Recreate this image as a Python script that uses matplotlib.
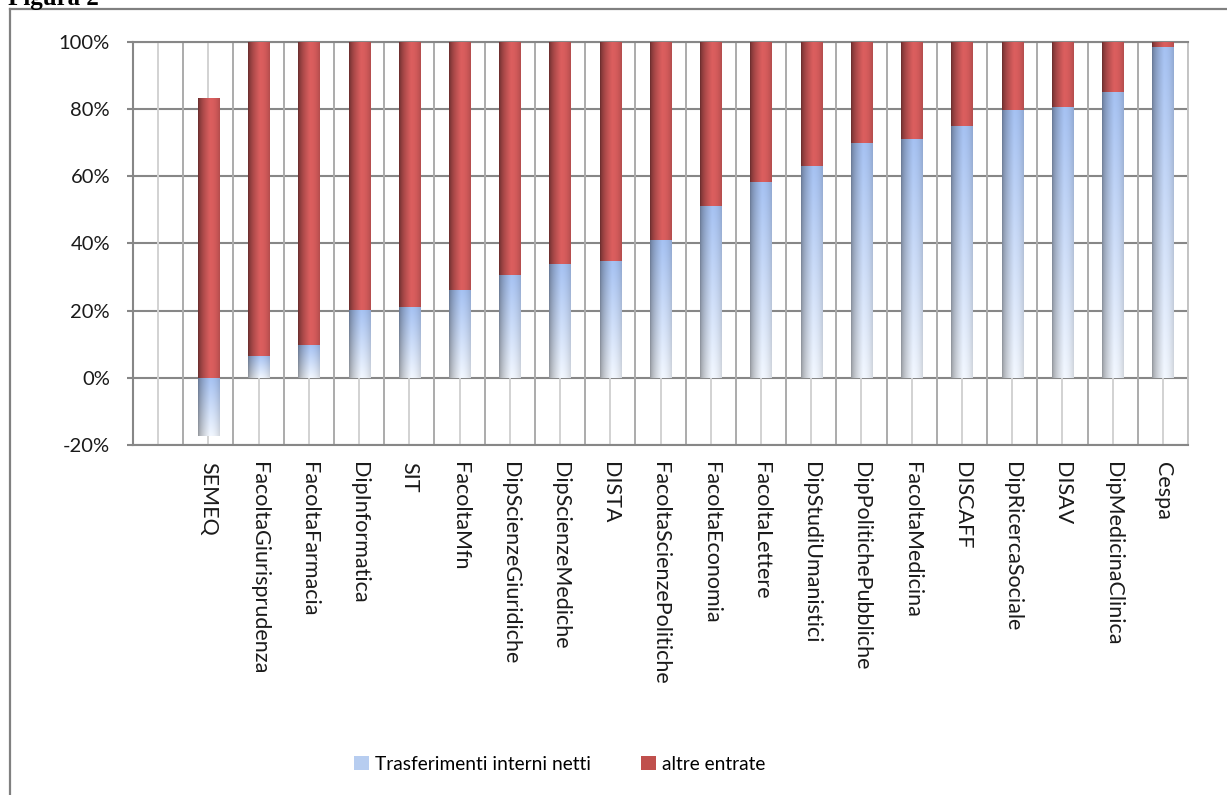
import numpy as np
import matplotlib
matplotlib.use("Agg")
import matplotlib.pyplot as plt
from matplotlib.patches import Patch
from matplotlib.lines import Line2D
from matplotlib.ticker import FuncFormatter

categories = ["", "SEMEQ", "FacoltaGiurisprudenza", "FacoltaFarmacia", "DipInformatica", "SIT",
              "FacoltaMfn", "DipScienzeGiuridiche", "DipScienzeMediche", "DISTA",
              "FacoltaScienzePolitiche", "FacoltaEconomia", "FacoltaLettere",
              "DipStudiUmanistici", "DipPolitichePubbliche", "FacoltaMedicina", "DISCAFF",
              "DipRicercaSociale", "DISAV", "DipMedicinaClinica", "Cespa"]
trasferimenti = [np.nan, -17.3, 6.6, 9.7, 20.3, 21.0, 26.0, 30.7, 33.8, 34.6, 41.0, 51.1, 58.3,
                 62.9, 69.9, 71.0, 74.8, 79.7, 80.7, 85.0, 98.3]
altre = [np.nan, 83.1, 93.4, 90.3, 79.7, 79.0, 74.0, 69.3, 66.2, 65.4, 59.0, 48.9, 41.7,
         37.1, 30.1, 29.0, 25.2, 20.3, 19.3, 15.0, 1.7]
series_names = ["Trasferimenti interni netti", "altre entrate"]
yticks = [-20, 0, 20, 40, 60, 80, 100]

FONT = "Lato"
plt.rcParams['font.family'] = [FONT, 'DejaVu Sans']

W, H = 1227, 795
fig = plt.figure(figsize=(W / 100, H / 100), dpi=100)
ax = fig.add_axes([133 / W, 1 - 445 / H, (1188 - 133) / W, (445 - 41.7) / H])

x = np.arange(len(categories))
tr = np.array(trasferimenti) / 100.0
al = np.array(altre) / 100.0
bottom_al = np.where(np.nan_to_num(tr) > 0, np.nan_to_num(tr), 0)
bw = 0.42

bars_b = ax.bar(x, tr, width=bw, color='none', edgecolor='none', zorder=3)
bars_r = ax.bar(x, al, width=bw, bottom=bottom_al, color='none', edgecolor='none', zorder=3)

# horizontal shading profile
t = np.linspace(0, 1, 64)
f = np.where(t < 0.55, 0.45 + 0.55 * (t / 0.55) ** 0.6, 1 - 0.18 * ((t - 0.55) / 0.45) ** 2)

def blue_img():
    v = np.linspace(0, 1, 128)[:, None]
    top = np.array([0.65, 0.76, 0.95])
    bot = np.array([0.95, 0.97, 1.0])
    base = top[None, None, :] * (1 - v[..., None]) + bot[None, None, :] * v[..., None]
    fh = f[None, :, None]
    img = base * fh + (1 - fh) * 0.25 * base
    return np.clip(img, 0, 1)

def red_img():
    base = np.array([0.86, 0.37, 0.37])
    img = np.ones((4, 64, 3)) * base[None, None, :]
    img = img * f[None, :, None]
    return np.clip(img, 0, 1)

bimg = blue_img()
rimg = red_img()
for bars, img in ((bars_b, bimg), (bars_r, rimg)):
    for p in bars:
        h = p.get_height()
        if not np.isfinite(h) or h == 0:
            continue
        x0 = p.get_x(); x1 = x0 + p.get_width()
        y0 = p.get_y(); y1 = y0 + h
        ylo, yhi = min(y0, y1), max(y0, y1)
        im = ax.imshow(img, extent=(x0, x1, ylo, yhi), origin='upper', aspect='auto',
                       interpolation='bilinear', zorder=3)
        im.set_clip_path(p)

ax.set_xlim(-0.5, len(categories) - 0.5)
ax.set_ylim(-0.2, 1.0)
ax.set_yticks(np.array(yticks) / 100.0)
ax.yaxis.set_major_formatter(FuncFormatter(lambda v, _: f"{round(v * 100)}%"))

# gridlines
for yv in yticks:
    ax.axhline(yv / 100.0, color='#878787', lw=1.5, zorder=1)
for k in x:
    ax.axvline(k, color='#d2d2d2', lw=1.4, zorder=1)
for k in np.arange(len(categories) + 1) - 0.5:
    ax.axvline(k, color='#ababab', lw=1.4, zorder=1)

ax.set_xticks(x)
ax.set_xticklabels(categories, rotation=-90, ha='center', va='top', fontsize=15.5)
ax.tick_params(axis='x', length=0, pad=12)
ax.tick_params(axis='y', length=4.5, width=1.5, color='#878787', pad=12, labelsize=14.5)
for lab in ax.get_yticklabels() + ax.get_xticklabels():
    lab.set_color('#1a1a1a')

for s in ('left', 'bottom', 'top'):
    ax.spines[s].set_color('#878787')
    ax.spines[s].set_linewidth(1.5)
ax.spines['right'].set_color('#c4c4c4')
ax.spines['right'].set_linewidth(1.4)

handles = [Patch(facecolor='#b7cdf0', edgecolor='none'),
           Patch(facecolor='#c0504d', edgecolor='none')]
fig.legend(handles, series_names, loc='center', bbox_to_anchor=(560 / W, 1 - 764 / H),
           ncol=2, frameon=False, fontsize=13.8, handlelength=0.75, handleheight=0.75,
           handletextpad=0.35, columnspacing=2.6)

# outer frame and caption
fig.add_artist(Line2D([10 / W, 10 / W], [0, 1 - 9 / H], transform=fig.transFigure,
                      color='#808080', lw=1.6))
fig.add_artist(Line2D([10 / W, 1], [1 - 9 / H, 1 - 9 / H], transform=fig.transFigure,
                      color='#808080', lw=1.6))
fig.text(8 / W, 1 - 4.5 / H, "Figura 2", family='Liberation Serif', weight='bold',
         fontsize=18, va='baseline', ha='left')

fig.savefig("out.png", dpi=100)
